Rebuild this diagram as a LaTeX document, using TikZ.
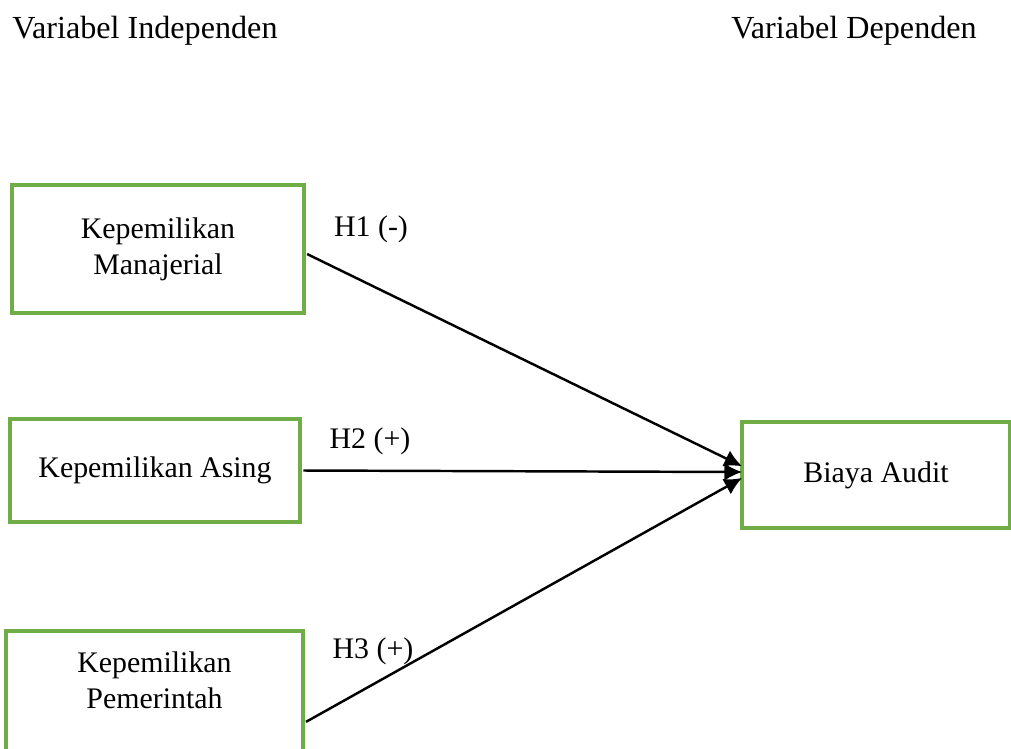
\documentclass[tikz,border=0pt]{standalone}
\usepackage{fontspec}
\setmainfont{Liberation Serif}
\usetikzlibrary{arrows.meta}
\usetikzlibrary{positioning}
\definecolor{boxgreen}{RGB}{112,173,71}

\begin{document}
\begin{tikzpicture}[x=0.02cm,y=-0.02cm]

\tikzstyle{varbox}=[draw=boxgreen,line width=1.8pt,inner sep=0pt,outer sep=0pt,align=center,font=\fontsize{17}{20.4}\selectfont]
\tikzstyle{head}=[font=\fontsize{18.3}{22}\selectfont,inner sep=0pt]
\tikzstyle{hyp}=[font=\fontsize{17}{20.4}\selectfont,inner sep=0pt]
\tikzstyle{link}=[line width=1.4pt,-{Latex[length=10pt,width=10pt]},shorten <=2pt]

\useasboundingbox (0,0) rectangle (1011,749);

\node (indep) [head] at (145,31) {Variabel Independen};
\node (dep) [head] at (854,31) {Variabel Dependen};

\node (mana) [varbox,minimum width=5.84cm,minimum height=2.56cm] at (158,249) {Kepemilikan\\Manajerial};
\node (asing) [varbox,minimum width=5.8cm,minimum height=2.06cm] at (155,470.5) {Kepemilikan Asing};
\node (pemer) [varbox,minimum width=5.94cm,minimum height=3cm] at (154.5,706) {};
\node (pemertext) [align=center,font=\fontsize{17}{20.4}\selectfont,inner sep=0pt] at (154.5,680) {Kepemilikan\\Pemerintah};
\node (biaya) [varbox,minimum width=5.36cm,minimum height=2.12cm] at (876,475) {Biaya Audit};

% hypotheses
\draw [link] ([yshift=-2pt]mana.east) -- ([yshift=5pt]biaya.west);
\draw [link] (asing.east) -- ([yshift=1.7pt]biaya.west);
\draw [link] ([yshift=-10pt]pemer.east) -- ([yshift=-1.7pt]biaya.west);

\node (h1) [hyp] at (371,229) {H1 (-)};
\node (h2) [hyp] at (370,441) {H2 (+)};
\node (h3) [hyp] at (373,651) {H3 (+)};

\end{tikzpicture}
\end{document}
